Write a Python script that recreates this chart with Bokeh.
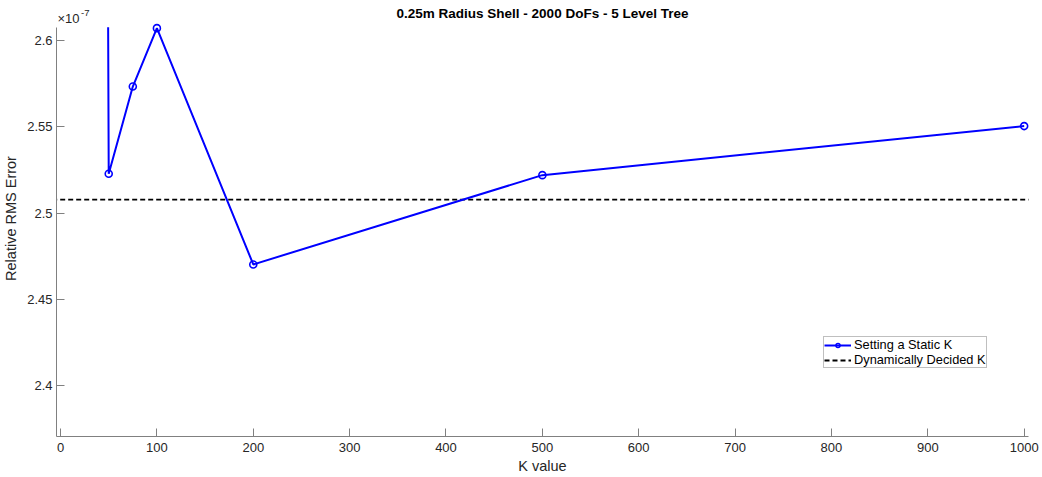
from bokeh.plotting import figure
from bokeh.models import (FixedTicker, NumeralTickFormatter, Legend, LegendItem,
                          Label, Range1d)
from bokeh.embed import file_html
from bokeh.resources import INLINE

# ---- data (values in units of 1e-7) ----
k_values = [25, 50, 75, 100, 200, 500, 1000]
static_k_error = [6.0, 2.5228, 2.5733, 2.6071, 2.4703, 2.5220, 2.5504]  # first point lies far above the axes
dynamic_k_error = 2.5078
x_ticks = [0, 100, 200, 300, 400, 500, 600, 700, 800, 900, 1000]
y_ticks = [2.4, 2.45, 2.5, 2.55, 2.6]

title_text = "0.25m Radius Shell - 2000 DoFs - 5 Level Tree"
FONT = "Liberation Sans"
TXT = "#262626"
AX = "#808080"

X_LO, X_HI = -4.2, 1004.5
Y_LO, Y_AX_TOP, Y_HI = 2.3707, 2.6076, 2.6231

p = figure(width=1042, height=477, output_backend="svg", toolbar_location=None,
           x_range=Range1d(X_LO, X_HI), y_range=Range1d(Y_LO, Y_HI),
           min_border_left=10, min_border_right=14, min_border_top=0, min_border_bottom=10)
p.frame_width = 972
p.frame_height = 436
p.outline_line_color = None
p.grid.grid_line_color = None
p.background_fill_color = "white"
p.border_fill_color = "white"

for ax in (p.xaxis[0], p.yaxis[0]):
    ax.axis_line_color = AX
    ax.major_tick_line_color = AX
    ax.major_tick_in = 8
    ax.major_tick_out = 0
    ax.minor_tick_line_color = None
    ax.major_label_text_font = FONT
    ax.major_label_text_font_size = "13px"
    ax.major_label_text_color = TXT
    ax.axis_label_text_font = FONT
    ax.axis_label_text_font_size = "14.5px"
    ax.axis_label_text_font_style = "normal"
    ax.axis_label_text_color = TXT

p.yaxis.bounds = (Y_LO, Y_AX_TOP)
p.xaxis.ticker = FixedTicker(ticks=x_ticks)
p.yaxis.ticker = FixedTicker(ticks=y_ticks)
p.yaxis.formatter = NumeralTickFormatter(format="0.0[0]")
p.xaxis.axis_label = "K value"
p.yaxis.axis_label = "Relative RMS Error"
p.xaxis.major_label_standoff = 6
p.yaxis.major_label_standoff = 4
p.xaxis.axis_label_standoff = 3
p.yaxis.axis_label_standoff = 5

r_dyn = p.line(x=[x_ticks[0] - 100, x_ticks[-1] + 100], y=[dynamic_k_error, dynamic_k_error],
               line_color="black", line_width=1.8, line_dash="5 3")
r_line = p.line(x=k_values, y=static_k_error, line_color="#0000ff", line_width=2)

# white cover above the axes top, so the line is cut there as in the reference
cover = p.quad(left=[X_LO], right=[X_HI], bottom=[Y_AX_TOP], top=[Y_HI + 10],
               fill_color="white", fill_alpha=1.0, line_color=None)
cover.level = "guide"

r_pts = p.scatter(x=k_values, y=static_k_error, marker="circle", size=7,
                  fill_color=None, line_color="#0000ff", line_width=1.6)
r_pts.level = "annotation"

legend = Legend(items=[LegendItem(label="Setting a Static K", renderers=[r_line, r_pts]),
                       LegendItem(label="Dynamically Decided K", renderers=[r_dyn])],
                location=(767, 68))
legend.label_text_font = FONT
legend.label_text_font_size = "12.8px"
legend.label_text_color = "black"
legend.label_height = 10
legend.label_standoff = 3
legend.glyph_width = 27
legend.glyph_height = 10
legend.spacing = 0
legend.padding = 0
legend.margin = 0
legend.border_line_color = AX
legend.border_line_width = 1
legend.background_fill_color = "white"
legend.background_fill_alpha = 1
p.add_layout(legend, "center")

# title and exponent marker
p.add_layout(Label(x=486, y=423, x_units="screen", y_units="screen", text=title_text,
                   text_font=FONT, text_font_size="13.5px", text_font_style="bold",
                   text_color="black", text_align="center", text_baseline="middle"))
p.add_layout(Label(x=1, y=418, x_units="screen", y_units="screen", text="×10",
                   text_font=FONT, text_font_size="13px", text_color=TXT, text_baseline="middle"))
p.add_layout(Label(x=24.5, y=424, x_units="screen", y_units="screen", text="-7",
                   text_font=FONT, text_font_size="9.5px", text_color=TXT, text_baseline="middle"))

open("out.html", "w").write(file_html(p, INLINE))
